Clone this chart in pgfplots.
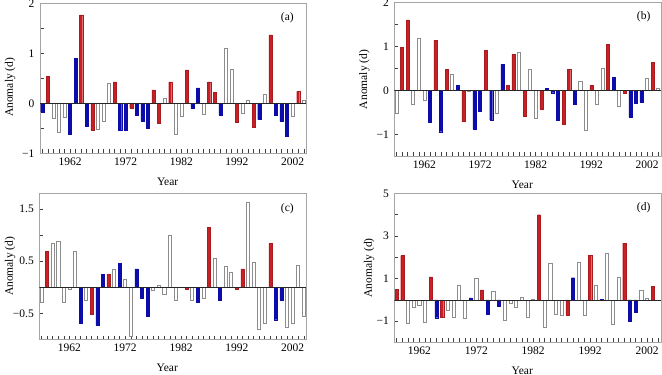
\documentclass[border=0pt]{standalone}
\usepackage{pgfplots}
\pgfplotsset{compat=1.18}
\usepackage{fontspec}
\setmainfont{Liberation Serif}
\definecolor{rbar}{RGB}{200,32,36}
\definecolor{bbar}{RGB}{12,12,170}
\definecolor{wedge}{RGB}{140,140,140}
\definecolor{framec}{RGB}{165,165,165}
\tikzset{
 zl/.style={black!85, line width=0.6pt},
 pl/.style={font=\fontsize{11.5}{13}\selectfont},
}
\pgfplotsset{
 panel/.style={
  scale only axis, anchor=south west,
  axis line style={framec, line width=0.6pt},
  tick align=inside, tick pos=left,
  major tick length=4pt, minor tick length=4pt,
  every tick/.style={black!75, line width=0.5pt},
  xtick={1962,1972,1982,1992,2002},
  xticklabels={1962,1972,1982,1992,2002},
  tick label style={font=\fontsize{11.5}{13}\selectfont},
  label style={font=\fontsize{11.5}{13}\selectfont},
  xlabel={Year}, ylabel={Anomaly (d)},
  xlabel style={at={(axis description cs:0.48,0)}, anchor=center, yshift=-28pt},
  ylabel style={at={(axis description cs:-0.112,0.5)}, anchor=center},
  yticklabel style={xshift=-2pt},
  xticklabel style={yshift=-1pt},
 },
 rb/.style={ybar, bar width=0.55, bar shift=0pt, fill=rbar, draw=rbar!85!black, line width=0.3pt},
 bb/.style={ybar, bar width=0.55, bar shift=0pt, fill=bbar, draw=bbar, line width=0.3pt},
 wb/.style={ybar, bar width=0.55, bar shift=0pt, fill=white, draw=wedge, line width=0.6pt},
}
\begin{document}
\begin{tikzpicture}[x=1pt,y=1pt]
\useasboundingbox (0,0) rectangle (662,375);
% (a)
\begin{axis}[panel, at={(40pt,221.7pt)}, width=266pt, height=150pt,
  xmin=1956.6, xmax=2004.4, ymin=-1, ymax=2,
  minor xtick={1957,1958,...,2004},
  ytick={-1,0,1,2}, yticklabels={−1,0,1,2}, minor ytick={-0.5,0.5,1.5},
  ylabel style={at={(axis description cs:-0.112,0.44)}}]
\addplot[rb] coordinates {(1958,0.54)(1964,1.77)(1966,-0.54)(1970,0.43)(1973,-0.10)(1977,0.27)(1978,-0.39)(1980,0.43)(1983,0.67)(1987,0.43)(1988,0.22)(1992,-0.37)(1995,-0.47)(1998,1.37)(2003,0.24)};
\addplot[bb] coordinates {(1957,-0.17)(1962,-0.62)(1963,0.90)(1965,-0.45)(1971,-0.54)(1972,-0.54)(1974,-0.23)(1975,-0.35)(1976,-0.49)(1984,-0.10)(1985,0.31)(1989,-0.23)(1996,-0.32)(1999,-0.24)(2000,-0.36)(2001,-0.66)};
\addplot[wb] coordinates {(1959,-0.30)(1960,-0.58)(1961,-0.28)(1967,-0.52)(1968,-0.36)(1969,0.39)(1979,0.10)(1981,-0.62)(1982,-0.26)(1986,-0.23)(1990,1.10)(1991,0.68)(1993,-0.20)(1994,0.05)(1997,0.18)(2002,-0.26)(2004,0.05)};
\draw[zl] ({rel axis cs:0,0}|-{axis cs:1960,0}) -- ({rel axis cs:1,0}|-{axis cs:1960,0});
\node[pl] at (rel axis cs:0.93,0.907) {(a)};
\end{axis}
% (b)
\begin{axis}[panel, at={(394.3pt,218.7pt)}, width=266.7pt, height=153.6pt,
  xmin=1956.6, xmax=2004.5, ymin=-1.5, ymax=2,
  minor xtick={1957,1958,...,2004},
  ytick={-1,0,1,2}, yticklabels={−1,0,1,2}, minor ytick={-1.5,-0.5,0.5,1.5}]
\addplot[rb] coordinates {(1958,0.98)(1959,1.61)(1964,1.14)(1966,0.48)(1969,-0.71)(1973,0.92)(1977,0.12)(1978,0.82)(1980,-0.58)(1983,-0.42)(1987,-0.77)(1988,0.48)(1992,0.12)(1995,1.05)(1998,-0.07)(2003,0.64)};
\addplot[bb] coordinates {(1963,-0.72)(1965,-0.94)(1968,0.11)(1971,-0.88)(1972,-0.48)(1974,-0.67)(1976,0.59)(1984,0.05)(1985,-0.05)(1986,-0.67)(1989,-0.32)(1996,0.30)(1999,-0.61)(2000,-0.30)(2001,-0.27)};
\addplot[wb] coordinates {(1957,-0.53)(1960,-0.32)(1961,1.20)(1962,-0.22)(1967,0.36)(1970,-0.02)(1975,-0.51)(1979,0.86)(1981,0.48)(1982,-0.64)(1990,0.21)(1991,-0.90)(1993,-0.32)(1994,0.50)(1997,-0.37)(2002,0.27)(2004,0.05)};
\draw[zl] ({rel axis cs:0,0}|-{axis cs:1960,0}) -- ({rel axis cs:1,0}|-{axis cs:1960,0});
\node[pl] at (rel axis cs:0.935,0.91) {(b)};
\end{axis}
% (c)
\begin{axis}[panel, at={(39.3pt,35.4pt)}, width=266.7pt, height=146.5pt,
  xmin=1956.6, xmax=2004.4, ymin=-1, ymax=1.8,
  minor xtick={1957,1958,...,2004},
  ytick={-0.5,0.5,1.5}, yticklabels={−0.5,0.5,1.5}, minor ytick={-1,0,1},
  ylabel style={at={(axis description cs:-0.109,0.5)}}]
\addplot[rb] coordinates {(1958,0.69)(1966,-0.52)(1969,0.25)(1983,-0.03)(1987,1.15)(1992,-0.03)(1993,0.35)(1998,0.84)};
\addplot[bb] coordinates {(1964,-0.69)(1967,-0.73)(1968,0.25)(1971,0.46)(1974,0.35)(1975,-0.21)(1976,-0.55)(1985,-0.28)(1989,-0.24)(1999,-0.62)(2000,-0.24)};
\addplot[wb] coordinates {(1957,-0.29)(1959,0.84)(1960,0.87)(1961,-0.29)(1962,-0.04)(1963,0.69)(1965,-0.24)(1970,0.35)(1972,0.15)(1973,-0.94)(1977,-0.06)(1978,0.04)(1979,-0.13)(1980,1.00)(1981,-0.24)(1984,-0.24)(1986,-0.21)(1988,0.56)(1990,0.41)(1991,0.29)(1994,1.62)(1995,0.48)(1996,-0.80)(1997,-0.69)(2001,-0.76)(2002,-0.69)(2003,0.42)(2004,-0.55)};
\draw[zl] ({rel axis cs:0,0}|-{axis cs:1960,0}) -- ({rel axis cs:1,0}|-{axis cs:1960,0});
\node[pl] at (rel axis cs:0.93,0.895) {(c)};
\end{axis}
% (d)
\begin{axis}[panel, at={(394.3pt,32.6pt)}, width=266.7pt, height=149pt,
  xmin=1957.6, xmax=2004.45, ymin=-2, ymax=5,
  minor xtick={1958,1959,...,2004},
  ytick={-1,1,3,5}, yticklabels={−1,1,3,5}, minor ytick={-2,0,2,4},
  ylabel style={at={(axis description cs:-0.094,0.5)}}]
\addplot[rb] coordinates {(1958,0.50)(1959,2.08)(1964,1.08)(1966,-0.81)(1973,0.47)(1983,4.00)(1988,-0.73)(1992,2.10)(1998,2.67)(2003,0.63)};
\addplot[bb] coordinates {(1965,-0.84)(1971,0.09)(1974,-0.67)(1976,-0.28)(1989,1.04)(1994,0.02)(1999,-1.00)(2000,-0.57)};
\addplot[wb] coordinates {(1960,-1.11)(1961,-0.37)(1962,-0.25)(1963,-1.05)(1967,-0.47)(1968,-0.81)(1969,0.66)(1970,-0.89)(1972,1.03)(1975,0.41)(1977,-0.98)(1978,-0.14)(1979,-0.33)(1980,0.14)(1981,-0.81)(1982,0.04)(1984,-1.27)(1985,1.70)(1986,-0.70)(1987,-0.73)(1990,1.78)(1991,-0.73)(1993,0.66)(1995,2.18)(1996,-1.13)(1997,1.08)(2001,0.46)(2002,0.05)(2004,-0.03)};
\draw[zl] ({rel axis cs:0,0}|-{axis cs:1960,0}) -- ({rel axis cs:1,0}|-{axis cs:1960,0});
\node[pl] at (rel axis cs:0.935,0.903) {(d)};
\end{axis}
\end{tikzpicture}
\end{document}
